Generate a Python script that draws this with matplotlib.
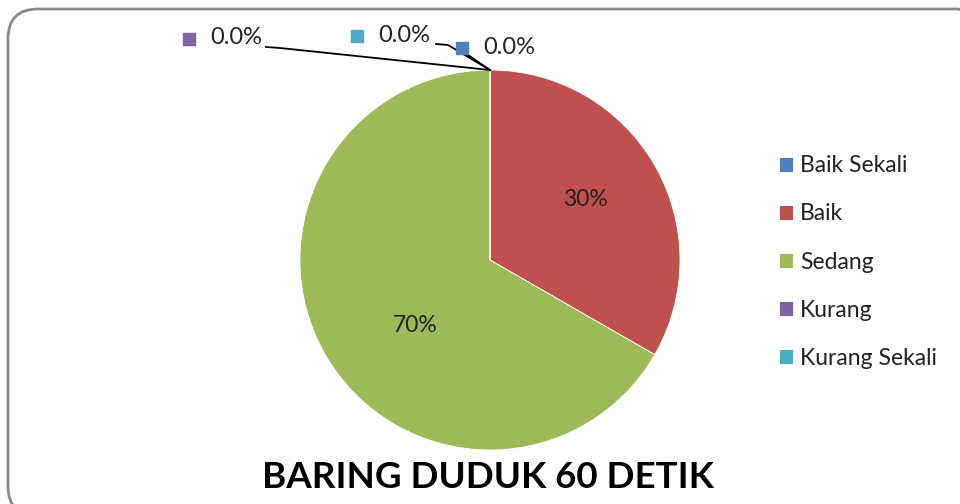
import matplotlib.pyplot as plt
from matplotlib.patches import FancyBboxPatch

# data
categories = ['Baik Sekali', 'Baik', 'Sedang', 'Kurang', 'Kurang Sekali']
shares = [0, 33.3, 66.7, 0, 0]          # wedge sizes as drawn
labels = ['0.0%', '30%', '70%', '0.0%', '0.0%']
colors = ['#4F81BD', '#C0504D', '#9BBB59', '#8064A2', '#4BACC6']
title = 'BARING DUDUK 60 DETIK'

plt.rcParams['font.family'] = ['Lato', 'DejaVu Sans']

fig = plt.figure(figsize=(9.6, 5.04), dpi=100)
ax = fig.add_axes([0, 0, 1, 1])

# pixel-like coordinates, y up
H = 504
cx, cy, r = 490, H - 260, 190

wedges, _ = ax.pie(shares, colors=colors, startangle=90, counterclock=False,
                   center=(cx, cy), radius=r,
                   wedgeprops=dict(linewidth=0.6, edgecolor='white'))
ax.set_xlim(0, 960)
ax.set_ylim(0, H)
ax.set_aspect('equal')
ax.axis('off')

# labels of the non-zero slices
ax.text(585, H - 199, labels[1], fontsize=16.5, ha='center', va='center', color='#222222')
ax.text(415, H - 326, labels[2], fontsize=16.5, ha='center', va='center', color='#222222')

# zero slices: small legend-key squares with labels and leader lines
top = (cx, cy + r)
zero_lbl = [(3, 189, 39, 266, 280), (4, 357, 36, 436, 448), (0, 462, 48, None, None)]
for idx, mx, my, lx0, lx1 in zero_lbl:
    ax.plot(mx, H - my, marker='s', ms=8, color=colors[idx], ls='none', zorder=4)
    ax.text(mx + 21, H - my + 1, labels[idx], fontsize=17, va='center', ha='left', color='#222222')
    if lx0 is not None:
        ax.plot([lx0, lx1, top[0]], [H - my - 8, H - my - 9, top[1]], color='black', lw=1.3, zorder=3)
    else:
        ax.plot([mx + 6, top[0]], [H - my - 7, top[1]], color='black', lw=1.3, zorder=3)

leg = ax.legend(wedges, categories, loc='upper left', bbox_to_anchor=(768 / 960, 1 - 144 / H),
                frameon=False, fontsize=16.5, handlelength=0.6, handleheight=0.6,
                handletextpad=0.3, labelspacing=1.18, borderpad=0)
for t in leg.get_texts():
    t.set_color('#222222')

ax.text(488, H - 478, title, fontsize=26.5, fontweight='bold', ha='center', va='center', color='black')

# rounded chart border
border = FancyBboxPatch((8, -12), 980, H - 9 + 12, boxstyle='round,pad=0,rounding_size=30',
                        facecolor='none', edgecolor='#8a8a8a', lw=2, clip_on=True)
ax.add_patch(border)

fig.savefig('out.png', dpi=100)
